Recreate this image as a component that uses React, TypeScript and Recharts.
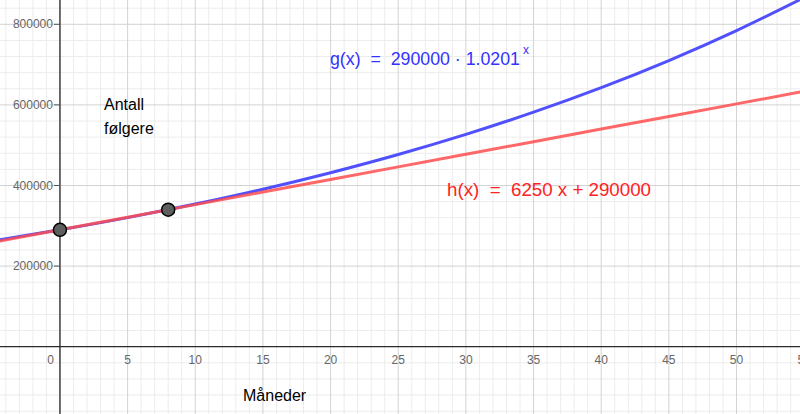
import { LineChart, Line, XAxis, YAxis, ReferenceLine, ReferenceDot } from "recharts";

const months = [-5, 0, 5, 10, 15, 20, 25, 30, 35, 40, 45, 50, 55];
const gValues = [262500, 290000, 320300, 353900, 390900, 431800, 476900, 526800, 581900, 642800, 710100, 784400, 866400];
const hValues = [258750, 290000, 321250, 352500, 383750, 415000, 446250, 477500, 508750, 540000, 571250, 602500, 633750];

const markedMonths = [0, 8];
const markedValues = [290000, 340000];

const xMajorTicks = [0, 5, 10, 15, 20, 25, 30, 35, 40, 45, 50, 55];
const xMinorTicks = [
  -4, -3, -2, -1, 1, 2, 3, 4, 6, 7, 8, 9, 11, 12, 13, 14, 16, 17, 18, 19, 21, 22, 23, 24, 26, 27, 28, 29,
  31, 32, 33, 34, 36, 37, 38, 39, 41, 42, 43, 44, 46, 47, 48, 49, 51, 52, 53, 54,
];
const yMajorTicks = [200000, 400000, 600000, 800000];
const yMinorTicks = [
  -160000, -120000, -80000, -40000, 40000, 80000, 120000, 160000, 240000, 280000, 320000, 360000, 440000,
  480000, 520000, 560000, 640000, 680000, 720000, 760000, 840000,
];

const FONT = '"Liberation Sans", Arial, sans-serif';

const data = months.map((m, i) => ({ month: m, g: gValues[i], h: hValues[i] }));

const xTickLabel = (value: number) => (props: any) => (
  <text
    x={value === 0 ? props.cx - 6 : props.cx}
    y={props.cy + 17}
    textAnchor={value === 0 ? "end" : "middle"}
    fontSize={12}
    fontFamily={FONT}
    fill="#666"
  >
    {value}
  </text>
);

const yTickLabel = (value: number) => (props: any) => (
  <g>
    <line x1={props.cx - 6} x2={props.cx} y1={props.cy} y2={props.cy} stroke="#555" strokeWidth={1} />
    <text x={props.cx - 7} y={props.cy + 4} textAnchor="end" fontSize={12} fontFamily={FONT} fill="#666">
      {value}
    </text>
  </g>
);

export default function App() {
  return (
    <div style={{ position: "absolute", left: 0, top: 0, width: 800, height: 414, background: "#fff" }}>
      <LineChart width={800} height={414} data={data} margin={{ top: 0, right: 0, bottom: 0, left: 0 }}>
        <XAxis dataKey="month" type="number" domain={[-4.43, 54.69]} allowDataOverflow hide />
        <YAxis type="number" domain={[-167000, 860300]} allowDataOverflow hide />

        {xMinorTicks.map((t) => (
          <ReferenceLine key={`xm${t}`} x={t} stroke="#ececec" strokeWidth={1} />
        ))}
        {yMinorTicks.map((t) => (
          <ReferenceLine key={`ym${t}`} y={t} stroke="#ececec" strokeWidth={1} />
        ))}
        {xMajorTicks.map((t) => (
          <ReferenceLine key={`xM${t}`} x={t} stroke="#d3d3d3" strokeWidth={1} />
        ))}
        {yMajorTicks.map((t) => (
          <ReferenceLine key={`yM${t}`} y={t} stroke="#d3d3d3" strokeWidth={1} />
        ))}

        <ReferenceLine x={0} stroke="#2a2a2a" strokeWidth={1.3} />
        <ReferenceLine y={0} stroke="#2a2a2a" strokeWidth={1.3} />

        {xMajorTicks.map((t) => (
          <ReferenceDot key={`xl${t}`} x={t} y={0} r={0} ifOverflow="visible" shape={xTickLabel(t)} />
        ))}
        {yMajorTicks.map((t) => (
          <ReferenceDot key={`yl${t}`} x={0} y={t} r={0} ifOverflow="visible" shape={yTickLabel(t)} />
        ))}

        <Line
          dataKey="g"
          type="monotone"
          stroke="#5050ff"
          strokeWidth={3}
          dot={false}
          isAnimationActive={false}
        />
        <Line
          dataKey="h"
          type="linear"
          stroke="#ff4d4d"
          strokeOpacity={0.85}
          strokeWidth={3}
          dot={false}
          isAnimationActive={false}
        />

        {markedMonths.map((m, i) => (
          <ReferenceDot
            key={`p${m}`}
            x={m}
            y={markedValues[i]}
            r={6.5}
            fill="#5e5e5e"
            stroke="#000"
            strokeWidth={1.5}
          />
        ))}
      </LineChart>

      <svg
        width={800}
        height={414}
        style={{ position: "absolute", left: 0, top: 0, pointerEvents: "none" }}
        fontFamily={FONT}
      >
        <text
          x={330}
          y={65}
          fontSize={19}
          fill="#3333ff"
          xmlSpace="preserve"
          textLength={190}
          lengthAdjust="spacingAndGlyphs"
        >
          {"g(x)  =  290000 · 1.0201"}
        </text>
        <text x={523} y={54} fontSize={12} fill="#3333ff">
          x
        </text>
        <text
          x={447}
          y={196}
          fontSize={19}
          fill="#ff2222"
          xmlSpace="preserve"
          textLength={204}
          lengthAdjust="spacingAndGlyphs"
        >
          {"h(x)  =  6250 x + 290000"}
        </text>
        <text x={104} y={110} fontSize={16} fill="#000">
          Antall
        </text>
        <text x={104} y={134} fontSize={16} fill="#000">
          følgere
        </text>
        <text x={243} y={401} fontSize={16} fill="#000">
          Måneder
        </text>
      </svg>
    </div>
  );
}
